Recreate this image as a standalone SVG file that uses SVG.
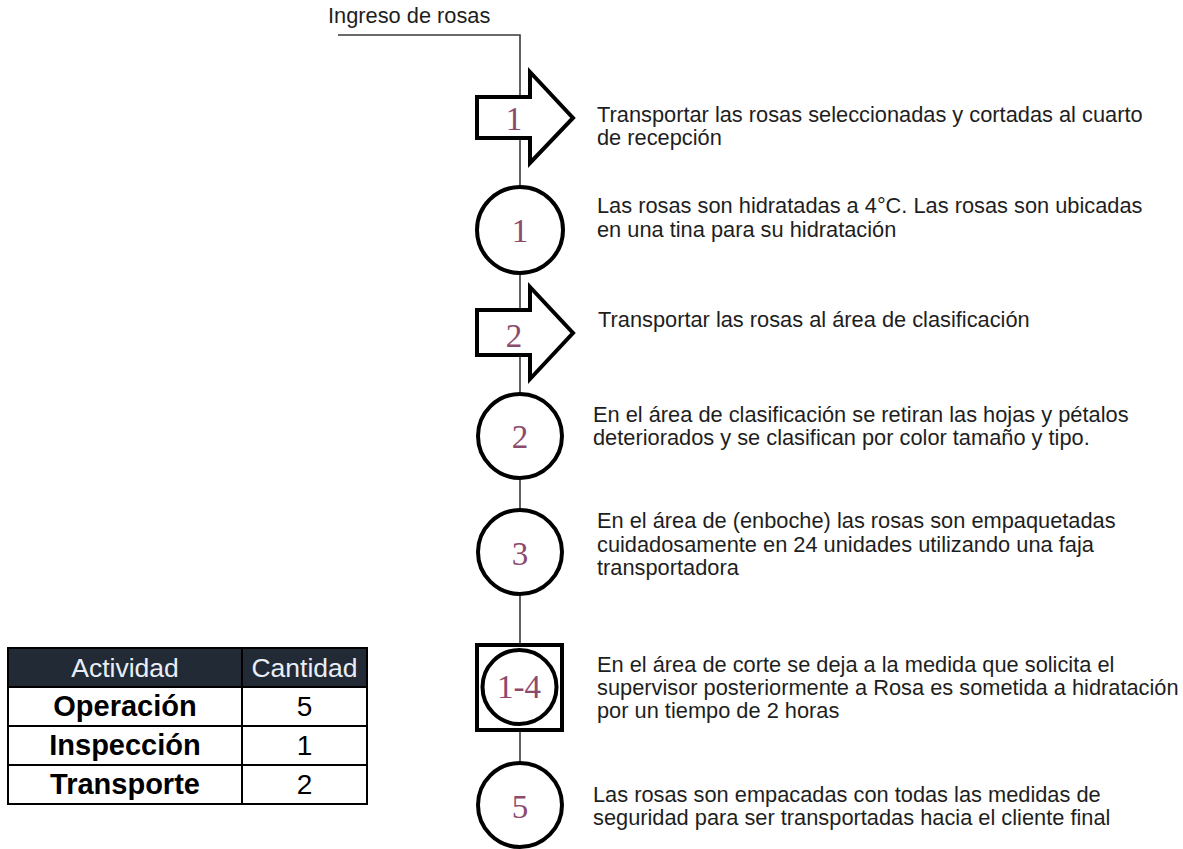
<svg xmlns="http://www.w3.org/2000/svg" width="1183" height="849" viewBox="0 0 1183 849">
<style>
.desc{font-family:"Liberation Sans",Arial,sans-serif;font-size:21.8px;fill:#1e1e1e}
.num{font-family:"Liberation Serif","Times New Roman",serif;font-size:33px;fill:#8c4a6c;text-anchor:middle}
.shape{fill:#fff;stroke:#000;stroke-width:4}
.conn{fill:none;stroke:#3a3a3a;stroke-width:1.6}
.cell{fill:#fff;stroke:#000;stroke-width:2}
.hdr{fill:#222a35;stroke:#000;stroke-width:2}
.ht{font-family:"Liberation Sans",Arial,sans-serif;font-size:26.5px;fill:#e9eef6;text-anchor:middle}
.bt{font-family:"Liberation Sans",Arial,sans-serif;font-size:29px;font-weight:bold;fill:#000;text-anchor:middle}
.nt{font-family:"Liberation Sans",Arial,sans-serif;font-size:28px;fill:#000;text-anchor:middle}
</style>
<g id="connectors">
<path class="conn" d="M338 35 H520 V762"/>
</g>
<text class="desc" x="328" y="23">Ingreso de rosas</text>
<g id="t1">
<path class="shape" d="M477 97 H530 V72 L573 118 L530 163 V138 H477 Z"/>
<text class="num" x="514" y="130">1</text>
<text class="desc" x="597" y="122">Transportar las rosas seleccionadas y cortadas al cuarto</text>
<text class="desc" x="597" y="145">de recepción</text>
</g>
<g id="o1">
<circle class="shape" cx="520" cy="230" r="43"/>
<text class="num" x="520" y="242">1</text>
<text class="desc" x="597" y="213">Las rosas son hidratadas a 4°C. Las rosas son ubicadas</text>
<text class="desc" x="597" y="237">en una tina para su hidratación</text>
</g>
<g id="t2">
<path class="shape" d="M477 310 H530 V287 L573 333 L530 379 V355 H477 Z"/>
<text class="num" x="514" y="347">2</text>
<text class="desc" x="598" y="327">Transportar las rosas al área de clasificación</text>
</g>
<g id="o2">
<circle class="shape" cx="520" cy="436" r="42"/>
<text class="num" x="520" y="448">2</text>
<text class="desc" x="593" y="422">En el área de clasificación  se retiran las hojas y pétalos</text>
<text class="desc" x="593" y="445">deteriorados y se clasifican por color tamaño y tipo.</text>
</g>
<g id="o3">
<circle class="shape" cx="520" cy="552" r="42"/>
<text class="num" x="520" y="565">3</text>
<text class="desc" x="597" y="528">En el área de (enboche) las rosas son empaquetadas</text>
<text class="desc" x="597" y="552">cuidadosamente en 24 unidades utilizando una faja</text>
<text class="desc" x="597" y="575">transportadora</text>
</g>
<g id="c14">
<rect class="shape" x="477" y="645" width="85" height="85"/>
<circle class="shape" cx="519.5" cy="687" r="37" stroke-width="3.5"/>
<text class="num" x="519" y="698">1-4</text>
<text class="desc" x="597" y="672">En el área de corte se deja a la medida que solicita el</text>
<text class="desc" x="597" y="695">supervisor posteriormente a Rosa es sometida a hidratación</text>
<text class="desc" x="597" y="718">por un tiempo de 2 horas</text>
</g>
<g id="o5">
<circle class="shape" cx="520" cy="805" r="42"/>
<text class="num" x="520" y="818">5</text>
<text class="desc" x="593" y="802">Las rosas son empacadas con todas las medidas de</text>
<text class="desc" x="593" y="825">seguridad para ser transportadas hacia el cliente final</text>
</g>
<g id="table">
<rect class="hdr" x="8" y="648" width="234" height="39"/>
<rect class="hdr" x="242" y="648" width="125" height="39"/>
<rect class="cell" x="8" y="687" width="234" height="39"/>
<rect class="cell" x="242" y="687" width="125" height="39"/>
<rect class="cell" x="8" y="726" width="234" height="39"/>
<rect class="cell" x="242" y="726" width="125" height="39"/>
<rect class="cell" x="8" y="765" width="234" height="39"/>
<rect class="cell" x="242" y="765" width="125" height="39"/>
<text class="ht" x="125" y="677">Actividad</text>
<text class="ht" x="304.5" y="677">Cantidad</text>
<text class="bt" x="125" y="716">Operación</text>
<text class="nt" x="304.5" y="716">5</text>
<text class="bt" x="125" y="755">Inspección</text>
<text class="nt" x="304.5" y="755">1</text>
<text class="bt" x="125" y="794">Transporte</text>
<text class="nt" x="304.5" y="794">2</text>
</g>
</svg>
